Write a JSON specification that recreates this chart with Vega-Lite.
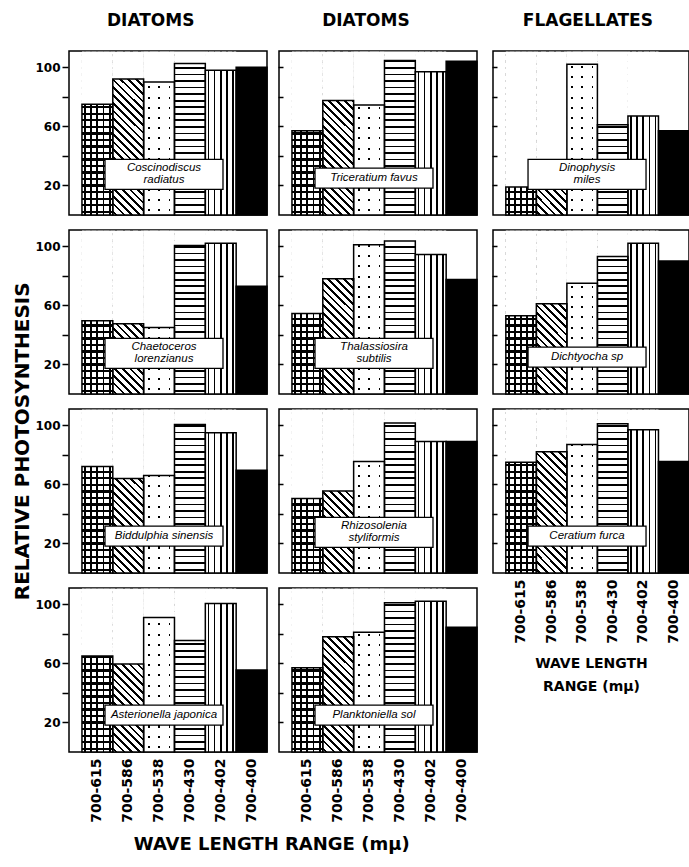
{
"$schema": "https://vega.github.io/schema/vega-lite/v6.json",
"background": "white",
"padding": {"left": 12, "top": 12, "right": 0, "bottom": 0},
"title": {"text": "RELATIVE PHOTOSYNTHESIS", "orient": "left", "anchor": "middle", "fontSize": 20, "fontWeight": "bold", "font": "DejaVu Sans", "color": "#000", "offset": 2, "dx": -8},
"params": [
{"name": "pG615H", "value": {"gradient":"linear","x1":0,"y1":0,"x2":0,"y2":1,"stops":[
{"offset":0.013,"color":"#fff"},{"offset":0.013,"color":"#000"},{"offset":0.027,"color":"#000"},{"offset":0.027,"color":"#fff"},
{"offset":0.053,"color":"#fff"},{"offset":0.053,"color":"#000"},{"offset":0.067,"color":"#000"},{"offset":0.067,"color":"#fff"},
{"offset":0.093,"color":"#fff"},{"offset":0.093,"color":"#000"},{"offset":0.107,"color":"#000"},{"offset":0.107,"color":"#fff"},
{"offset":0.133,"color":"#fff"},{"offset":0.133,"color":"#000"},{"offset":0.147,"color":"#000"},{"offset":0.147,"color":"#fff"},
{"offset":0.173,"color":"#fff"},{"offset":0.173,"color":"#000"},{"offset":0.187,"color":"#000"},{"offset":0.187,"color":"#fff"},
{"offset":0.213,"color":"#fff"},{"offset":0.213,"color":"#000"},{"offset":0.227,"color":"#000"},{"offset":0.227,"color":"#fff"},
{"offset":0.253,"color":"#fff"},{"offset":0.253,"color":"#000"},{"offset":0.267,"color":"#000"},{"offset":0.267,"color":"#fff"},
{"offset":0.293,"color":"#fff"},{"offset":0.293,"color":"#000"},{"offset":0.307,"color":"#000"},{"offset":0.307,"color":"#fff"},
{"offset":0.333,"color":"#fff"},{"offset":0.333,"color":"#000"},{"offset":0.347,"color":"#000"},{"offset":0.347,"color":"#fff"},
{"offset":0.373,"color":"#fff"},{"offset":0.373,"color":"#000"},{"offset":0.387,"color":"#000"},{"offset":0.387,"color":"#fff"},
{"offset":0.413,"color":"#fff"},{"offset":0.413,"color":"#000"},{"offset":0.427,"color":"#000"},{"offset":0.427,"color":"#fff"},
{"offset":0.453,"color":"#fff"},{"offset":0.453,"color":"#000"},{"offset":0.467,"color":"#000"},{"offset":0.467,"color":"#fff"},
{"offset":0.493,"color":"#fff"},{"offset":0.493,"color":"#000"},{"offset":0.507,"color":"#000"},{"offset":0.507,"color":"#fff"},
{"offset":0.533,"color":"#fff"},{"offset":0.533,"color":"#000"},{"offset":0.547,"color":"#000"},{"offset":0.547,"color":"#fff"},
{"offset":0.573,"color":"#fff"},{"offset":0.573,"color":"#000"},{"offset":0.587,"color":"#000"},{"offset":0.587,"color":"#fff"},
{"offset":0.613,"color":"#fff"},{"offset":0.613,"color":"#000"},{"offset":0.627,"color":"#000"},{"offset":0.627,"color":"#fff"},
{"offset":0.653,"color":"#fff"},{"offset":0.653,"color":"#000"},{"offset":0.667,"color":"#000"},{"offset":0.667,"color":"#fff"},
{"offset":0.693,"color":"#fff"},{"offset":0.693,"color":"#000"},{"offset":0.707,"color":"#000"},{"offset":0.707,"color":"#fff"},
{"offset":0.733,"color":"#fff"},{"offset":0.733,"color":"#000"},{"offset":0.747,"color":"#000"},{"offset":0.747,"color":"#fff"},
{"offset":0.773,"color":"#fff"},{"offset":0.773,"color":"#000"},{"offset":0.787,"color":"#000"},{"offset":0.787,"color":"#fff"},
{"offset":0.813,"color":"#fff"},{"offset":0.813,"color":"#000"},{"offset":0.827,"color":"#000"},{"offset":0.827,"color":"#fff"},
{"offset":0.853,"color":"#fff"},{"offset":0.853,"color":"#000"},{"offset":0.867,"color":"#000"},{"offset":0.867,"color":"#fff"},
{"offset":0.893,"color":"#fff"},{"offset":0.893,"color":"#000"},{"offset":0.907,"color":"#000"},{"offset":0.907,"color":"#fff"},
{"offset":0.933,"color":"#fff"},{"offset":0.933,"color":"#000"},{"offset":0.947,"color":"#000"},{"offset":0.947,"color":"#fff"},
{"offset":0.973,"color":"#fff"},{"offset":0.973,"color":"#000"},{"offset":0.987,"color":"#000"},{"offset":0.987,"color":"#fff"}
]}},
{"name": "pG615V", "value": {"gradient":"linear","x1":0,"y1":0,"x2":1,"y2":0,"stops":[
{"offset":0.07,"color":"rgba(255,255,255,0)"},{"offset":0.07,"color":"#000"},{"offset":0.13,"color":"#000"},{"offset":0.13,"color":"rgba(255,255,255,0)"},
{"offset":0.27,"color":"rgba(255,255,255,0)"},{"offset":0.27,"color":"#000"},{"offset":0.33,"color":"#000"},{"offset":0.33,"color":"rgba(255,255,255,0)"},
{"offset":0.47,"color":"rgba(255,255,255,0)"},{"offset":0.47,"color":"#000"},{"offset":0.53,"color":"#000"},{"offset":0.53,"color":"rgba(255,255,255,0)"},
{"offset":0.67,"color":"rgba(255,255,255,0)"},{"offset":0.67,"color":"#000"},{"offset":0.73,"color":"#000"},{"offset":0.73,"color":"rgba(255,255,255,0)"},
{"offset":0.87,"color":"rgba(255,255,255,0)"},{"offset":0.87,"color":"#000"},{"offset":0.93,"color":"#000"},{"offset":0.93,"color":"rgba(255,255,255,0)"}
]}},
{"name": "pDiag", "value": {"gradient":"linear","x1":1,"y1":0,"x2":0.784,"y2":1.148,"stops":[
{"offset":0.013,"color":"#fff"},{"offset":0.013,"color":"#000"},{"offset":0.027,"color":"#000"},{"offset":0.027,"color":"#fff"},
{"offset":0.053,"color":"#fff"},{"offset":0.053,"color":"#000"},{"offset":0.067,"color":"#000"},{"offset":0.067,"color":"#fff"},
{"offset":0.093,"color":"#fff"},{"offset":0.093,"color":"#000"},{"offset":0.107,"color":"#000"},{"offset":0.107,"color":"#fff"},
{"offset":0.133,"color":"#fff"},{"offset":0.133,"color":"#000"},{"offset":0.147,"color":"#000"},{"offset":0.147,"color":"#fff"},
{"offset":0.173,"color":"#fff"},{"offset":0.173,"color":"#000"},{"offset":0.187,"color":"#000"},{"offset":0.187,"color":"#fff"},
{"offset":0.213,"color":"#fff"},{"offset":0.213,"color":"#000"},{"offset":0.227,"color":"#000"},{"offset":0.227,"color":"#fff"},
{"offset":0.253,"color":"#fff"},{"offset":0.253,"color":"#000"},{"offset":0.267,"color":"#000"},{"offset":0.267,"color":"#fff"},
{"offset":0.293,"color":"#fff"},{"offset":0.293,"color":"#000"},{"offset":0.307,"color":"#000"},{"offset":0.307,"color":"#fff"},
{"offset":0.333,"color":"#fff"},{"offset":0.333,"color":"#000"},{"offset":0.347,"color":"#000"},{"offset":0.347,"color":"#fff"},
{"offset":0.373,"color":"#fff"},{"offset":0.373,"color":"#000"},{"offset":0.387,"color":"#000"},{"offset":0.387,"color":"#fff"},
{"offset":0.413,"color":"#fff"},{"offset":0.413,"color":"#000"},{"offset":0.427,"color":"#000"},{"offset":0.427,"color":"#fff"},
{"offset":0.453,"color":"#fff"},{"offset":0.453,"color":"#000"},{"offset":0.467,"color":"#000"},{"offset":0.467,"color":"#fff"},
{"offset":0.493,"color":"#fff"},{"offset":0.493,"color":"#000"},{"offset":0.507,"color":"#000"},{"offset":0.507,"color":"#fff"},
{"offset":0.533,"color":"#fff"},{"offset":0.533,"color":"#000"},{"offset":0.547,"color":"#000"},{"offset":0.547,"color":"#fff"},
{"offset":0.573,"color":"#fff"},{"offset":0.573,"color":"#000"},{"offset":0.587,"color":"#000"},{"offset":0.587,"color":"#fff"},
{"offset":0.613,"color":"#fff"},{"offset":0.613,"color":"#000"},{"offset":0.627,"color":"#000"},{"offset":0.627,"color":"#fff"},
{"offset":0.653,"color":"#fff"},{"offset":0.653,"color":"#000"},{"offset":0.667,"color":"#000"},{"offset":0.667,"color":"#fff"},
{"offset":0.693,"color":"#fff"},{"offset":0.693,"color":"#000"},{"offset":0.707,"color":"#000"},{"offset":0.707,"color":"#fff"},
{"offset":0.733,"color":"#fff"},{"offset":0.733,"color":"#000"},{"offset":0.747,"color":"#000"},{"offset":0.747,"color":"#fff"},
{"offset":0.773,"color":"#fff"},{"offset":0.773,"color":"#000"},{"offset":0.787,"color":"#000"},{"offset":0.787,"color":"#fff"},
{"offset":0.813,"color":"#fff"},{"offset":0.813,"color":"#000"},{"offset":0.827,"color":"#000"},{"offset":0.827,"color":"#fff"},
{"offset":0.853,"color":"#fff"},{"offset":0.853,"color":"#000"},{"offset":0.867,"color":"#000"},{"offset":0.867,"color":"#fff"},
{"offset":0.893,"color":"#fff"},{"offset":0.893,"color":"#000"},{"offset":0.907,"color":"#000"},{"offset":0.907,"color":"#fff"},
{"offset":0.933,"color":"#fff"},{"offset":0.933,"color":"#000"},{"offset":0.947,"color":"#000"},{"offset":0.947,"color":"#fff"},
{"offset":0.973,"color":"#fff"},{"offset":0.973,"color":"#000"},{"offset":0.987,"color":"#000"},{"offset":0.987,"color":"#fff"}
]}},
{"name": "pDotH", "value": {"gradient":"linear","x1":0,"y1":0,"x2":0,"y2":1,"stops":[
{"offset":0.025,"color":"#fff"},{"offset":0.025,"color":"rgba(255,255,255,0)"},{"offset":0.0375,"color":"rgba(255,255,255,0)"},{"offset":0.0375,"color":"#fff"},
{"offset":0.0875,"color":"#fff"},{"offset":0.0875,"color":"rgba(255,255,255,0)"},{"offset":0.1,"color":"rgba(255,255,255,0)"},{"offset":0.1,"color":"#fff"},
{"offset":0.15,"color":"#fff"},{"offset":0.15,"color":"rgba(255,255,255,0)"},{"offset":0.1625,"color":"rgba(255,255,255,0)"},{"offset":0.1625,"color":"#fff"},
{"offset":0.2125,"color":"#fff"},{"offset":0.2125,"color":"rgba(255,255,255,0)"},{"offset":0.225,"color":"rgba(255,255,255,0)"},{"offset":0.225,"color":"#fff"},
{"offset":0.275,"color":"#fff"},{"offset":0.275,"color":"rgba(255,255,255,0)"},{"offset":0.2875,"color":"rgba(255,255,255,0)"},{"offset":0.2875,"color":"#fff"},
{"offset":0.3375,"color":"#fff"},{"offset":0.3375,"color":"rgba(255,255,255,0)"},{"offset":0.35,"color":"rgba(255,255,255,0)"},{"offset":0.35,"color":"#fff"},
{"offset":0.4,"color":"#fff"},{"offset":0.4,"color":"rgba(255,255,255,0)"},{"offset":0.4125,"color":"rgba(255,255,255,0)"},{"offset":0.4125,"color":"#fff"},
{"offset":0.4625,"color":"#fff"},{"offset":0.4625,"color":"rgba(255,255,255,0)"},{"offset":0.475,"color":"rgba(255,255,255,0)"},{"offset":0.475,"color":"#fff"},
{"offset":0.525,"color":"#fff"},{"offset":0.525,"color":"rgba(255,255,255,0)"},{"offset":0.5375,"color":"rgba(255,255,255,0)"},{"offset":0.5375,"color":"#fff"},
{"offset":0.5875,"color":"#fff"},{"offset":0.5875,"color":"rgba(255,255,255,0)"},{"offset":0.6,"color":"rgba(255,255,255,0)"},{"offset":0.6,"color":"#fff"},
{"offset":0.65,"color":"#fff"},{"offset":0.65,"color":"rgba(255,255,255,0)"},{"offset":0.6625,"color":"rgba(255,255,255,0)"},{"offset":0.6625,"color":"#fff"},
{"offset":0.7125,"color":"#fff"},{"offset":0.7125,"color":"rgba(255,255,255,0)"},{"offset":0.725,"color":"rgba(255,255,255,0)"},{"offset":0.725,"color":"#fff"},
{"offset":0.775,"color":"#fff"},{"offset":0.775,"color":"rgba(255,255,255,0)"},{"offset":0.7875,"color":"rgba(255,255,255,0)"},{"offset":0.7875,"color":"#fff"},
{"offset":0.8375,"color":"#fff"},{"offset":0.8375,"color":"rgba(255,255,255,0)"},{"offset":0.85,"color":"rgba(255,255,255,0)"},{"offset":0.85,"color":"#fff"},
{"offset":0.9,"color":"#fff"},{"offset":0.9,"color":"rgba(255,255,255,0)"},{"offset":0.9125,"color":"rgba(255,255,255,0)"},{"offset":0.9125,"color":"#fff"},
{"offset":0.9625,"color":"#fff"},{"offset":0.9625,"color":"rgba(255,255,255,0)"},{"offset":0.975,"color":"rgba(255,255,255,0)"},{"offset":0.975,"color":"#fff"}
]}},
{"name": "pDotV", "value": {"gradient":"linear","x1":0,"y1":0,"x2":1,"y2":0,"stops":[
{"offset":0.14,"color":"#fff"},{"offset":0.14,"color":"rgba(255,255,255,0)"},{"offset":0.2,"color":"rgba(255,255,255,0)"},{"offset":0.2,"color":"#fff"},
{"offset":0.473,"color":"#fff"},{"offset":0.473,"color":"rgba(255,255,255,0)"},{"offset":0.533,"color":"rgba(255,255,255,0)"},{"offset":0.533,"color":"#fff"},
{"offset":0.807,"color":"#fff"},{"offset":0.807,"color":"rgba(255,255,255,0)"},{"offset":0.867,"color":"rgba(255,255,255,0)"},{"offset":0.867,"color":"#fff"}
]}},
{"name": "pHL430", "value": {"gradient":"linear","x1":0,"y1":0,"x2":0,"y2":1,"stops":[
{"offset":0.015,"color":"#fff"},{"offset":0.015,"color":"#000"},{"offset":0.025,"color":"#000"},{"offset":0.025,"color":"#fff"},
{"offset":0.055,"color":"#fff"},{"offset":0.055,"color":"#000"},{"offset":0.065,"color":"#000"},{"offset":0.065,"color":"#fff"},
{"offset":0.095,"color":"#fff"},{"offset":0.095,"color":"#000"},{"offset":0.105,"color":"#000"},{"offset":0.105,"color":"#fff"},
{"offset":0.135,"color":"#fff"},{"offset":0.135,"color":"#000"},{"offset":0.145,"color":"#000"},{"offset":0.145,"color":"#fff"},
{"offset":0.175,"color":"#fff"},{"offset":0.175,"color":"#000"},{"offset":0.185,"color":"#000"},{"offset":0.185,"color":"#fff"},
{"offset":0.215,"color":"#fff"},{"offset":0.215,"color":"#000"},{"offset":0.225,"color":"#000"},{"offset":0.225,"color":"#fff"},
{"offset":0.255,"color":"#fff"},{"offset":0.255,"color":"#000"},{"offset":0.265,"color":"#000"},{"offset":0.265,"color":"#fff"},
{"offset":0.295,"color":"#fff"},{"offset":0.295,"color":"#000"},{"offset":0.305,"color":"#000"},{"offset":0.305,"color":"#fff"},
{"offset":0.335,"color":"#fff"},{"offset":0.335,"color":"#000"},{"offset":0.345,"color":"#000"},{"offset":0.345,"color":"#fff"},
{"offset":0.375,"color":"#fff"},{"offset":0.375,"color":"#000"},{"offset":0.385,"color":"#000"},{"offset":0.385,"color":"#fff"},
{"offset":0.415,"color":"#fff"},{"offset":0.415,"color":"#000"},{"offset":0.425,"color":"#000"},{"offset":0.425,"color":"#fff"},
{"offset":0.455,"color":"#fff"},{"offset":0.455,"color":"#000"},{"offset":0.465,"color":"#000"},{"offset":0.465,"color":"#fff"},
{"offset":0.495,"color":"#fff"},{"offset":0.495,"color":"#000"},{"offset":0.505,"color":"#000"},{"offset":0.505,"color":"#fff"},
{"offset":0.535,"color":"#fff"},{"offset":0.535,"color":"#000"},{"offset":0.545,"color":"#000"},{"offset":0.545,"color":"#fff"},
{"offset":0.575,"color":"#fff"},{"offset":0.575,"color":"#000"},{"offset":0.585,"color":"#000"},{"offset":0.585,"color":"#fff"},
{"offset":0.615,"color":"#fff"},{"offset":0.615,"color":"#000"},{"offset":0.625,"color":"#000"},{"offset":0.625,"color":"#fff"},
{"offset":0.655,"color":"#fff"},{"offset":0.655,"color":"#000"},{"offset":0.665,"color":"#000"},{"offset":0.665,"color":"#fff"},
{"offset":0.695,"color":"#fff"},{"offset":0.695,"color":"#000"},{"offset":0.705,"color":"#000"},{"offset":0.705,"color":"#fff"},
{"offset":0.735,"color":"#fff"},{"offset":0.735,"color":"#000"},{"offset":0.745,"color":"#000"},{"offset":0.745,"color":"#fff"},
{"offset":0.775,"color":"#fff"},{"offset":0.775,"color":"#000"},{"offset":0.785,"color":"#000"},{"offset":0.785,"color":"#fff"},
{"offset":0.815,"color":"#fff"},{"offset":0.815,"color":"#000"},{"offset":0.825,"color":"#000"},{"offset":0.825,"color":"#fff"},
{"offset":0.855,"color":"#fff"},{"offset":0.855,"color":"#000"},{"offset":0.865,"color":"#000"},{"offset":0.865,"color":"#fff"},
{"offset":0.895,"color":"#fff"},{"offset":0.895,"color":"#000"},{"offset":0.905,"color":"#000"},{"offset":0.905,"color":"#fff"},
{"offset":0.935,"color":"#fff"},{"offset":0.935,"color":"#000"},{"offset":0.945,"color":"#000"},{"offset":0.945,"color":"#fff"},
{"offset":0.975,"color":"#fff"},{"offset":0.975,"color":"#000"},{"offset":0.985,"color":"#000"},{"offset":0.985,"color":"#fff"}
]}},
{"name": "pVL402", "value": {"gradient":"linear","x1":0,"y1":0,"x2":1,"y2":0,"stops":[
{"offset":0.075,"color":"#fff"},{"offset":0.075,"color":"#000"},{"offset":0.125,"color":"#000"},{"offset":0.125,"color":"#fff"},
{"offset":0.275,"color":"#fff"},{"offset":0.275,"color":"#000"},{"offset":0.325,"color":"#000"},{"offset":0.325,"color":"#fff"},
{"offset":0.475,"color":"#fff"},{"offset":0.475,"color":"#000"},{"offset":0.525,"color":"#000"},{"offset":0.525,"color":"#fff"},
{"offset":0.675,"color":"#fff"},{"offset":0.675,"color":"#000"},{"offset":0.725,"color":"#000"},{"offset":0.725,"color":"#fff"},
{"offset":0.875,"color":"#fff"},{"offset":0.875,"color":"#000"},{"offset":0.925,"color":"#000"},{"offset":0.925,"color":"#fff"}
]}}
],
"data": {"values": [
{"col":1,"row":1,"species":"Coscinodiscus\nradiatus","range":"700-615","value":75},
{"col":1,"row":1,"species":"Coscinodiscus\nradiatus","range":"700-586","value":92},
{"col":1,"row":1,"species":"Coscinodiscus\nradiatus","range":"700-538","value":90},
{"col":1,"row":1,"species":"Coscinodiscus\nradiatus","range":"700-430","value":102.5},
{"col":1,"row":1,"species":"Coscinodiscus\nradiatus","range":"700-402","value":98},
{"col":1,"row":1,"species":"Coscinodiscus\nradiatus","range":"700-400","value":100},
{"col":2,"row":1,"species":"Triceratium favus","range":"700-615","value":57},
{"col":2,"row":1,"species":"Triceratium favus","range":"700-586","value":77.5},
{"col":2,"row":1,"species":"Triceratium favus","range":"700-538","value":74.5},
{"col":2,"row":1,"species":"Triceratium favus","range":"700-430","value":104.5},
{"col":2,"row":1,"species":"Triceratium favus","range":"700-402","value":97},
{"col":2,"row":1,"species":"Triceratium favus","range":"700-400","value":104},
{"col":3,"row":1,"species":"Dinophysis\nmiles","range":"700-615","value":19},
{"col":3,"row":1,"species":"Dinophysis\nmiles","range":"700-586","value":24},
{"col":3,"row":1,"species":"Dinophysis\nmiles","range":"700-538","value":102},
{"col":3,"row":1,"species":"Dinophysis\nmiles","range":"700-430","value":61},
{"col":3,"row":1,"species":"Dinophysis\nmiles","range":"700-402","value":67},
{"col":3,"row":1,"species":"Dinophysis\nmiles","range":"700-400","value":57},
{"col":1,"row":2,"species":"Chaetoceros\nlorenzianus","range":"700-615","value":49.5},
{"col":1,"row":2,"species":"Chaetoceros\nlorenzianus","range":"700-586","value":47.5},
{"col":1,"row":2,"species":"Chaetoceros\nlorenzianus","range":"700-538","value":45},
{"col":1,"row":2,"species":"Chaetoceros\nlorenzianus","range":"700-430","value":100.5},
{"col":1,"row":2,"species":"Chaetoceros\nlorenzianus","range":"700-402","value":102},
{"col":1,"row":2,"species":"Chaetoceros\nlorenzianus","range":"700-400","value":73},
{"col":2,"row":2,"species":"Thalassiosira\nsubtilis","range":"700-615","value":54.5},
{"col":2,"row":2,"species":"Thalassiosira\nsubtilis","range":"700-586","value":78},
{"col":2,"row":2,"species":"Thalassiosira\nsubtilis","range":"700-538","value":101},
{"col":2,"row":2,"species":"Thalassiosira\nsubtilis","range":"700-430","value":103.5},
{"col":2,"row":2,"species":"Thalassiosira\nsubtilis","range":"700-402","value":94.5},
{"col":2,"row":2,"species":"Thalassiosira\nsubtilis","range":"700-400","value":77.5},
{"col":3,"row":2,"species":"Dichtyocha sp","range":"700-615","value":53},
{"col":3,"row":2,"species":"Dichtyocha sp","range":"700-586","value":61},
{"col":3,"row":2,"species":"Dichtyocha sp","range":"700-538","value":75},
{"col":3,"row":2,"species":"Dichtyocha sp","range":"700-430","value":93},
{"col":3,"row":2,"species":"Dichtyocha sp","range":"700-402","value":102},
{"col":3,"row":2,"species":"Dichtyocha sp","range":"700-400","value":90},
{"col":1,"row":3,"species":"Biddulphia sinensis","range":"700-615","value":72},
{"col":1,"row":3,"species":"Biddulphia sinensis","range":"700-586","value":64},
{"col":1,"row":3,"species":"Biddulphia sinensis","range":"700-538","value":66},
{"col":1,"row":3,"species":"Biddulphia sinensis","range":"700-430","value":100.5},
{"col":1,"row":3,"species":"Biddulphia sinensis","range":"700-402","value":95},
{"col":1,"row":3,"species":"Biddulphia sinensis","range":"700-400","value":69.5},
{"col":2,"row":3,"species":"Rhizosolenia\nstyliformis","range":"700-615","value":50.5},
{"col":2,"row":3,"species":"Rhizosolenia\nstyliformis","range":"700-586","value":55.5},
{"col":2,"row":3,"species":"Rhizosolenia\nstyliformis","range":"700-538","value":75.5},
{"col":2,"row":3,"species":"Rhizosolenia\nstyliformis","range":"700-430","value":101.5},
{"col":2,"row":3,"species":"Rhizosolenia\nstyliformis","range":"700-402","value":89},
{"col":2,"row":3,"species":"Rhizosolenia\nstyliformis","range":"700-400","value":89},
{"col":3,"row":3,"species":"Ceratium furca","range":"700-615","value":75},
{"col":3,"row":3,"species":"Ceratium furca","range":"700-586","value":82},
{"col":3,"row":3,"species":"Ceratium furca","range":"700-538","value":87},
{"col":3,"row":3,"species":"Ceratium furca","range":"700-430","value":101},
{"col":3,"row":3,"species":"Ceratium furca","range":"700-402","value":97},
{"col":3,"row":3,"species":"Ceratium furca","range":"700-400","value":75.5},
{"col":1,"row":4,"species":"Asterionella japonica","range":"700-615","value":65},
{"col":1,"row":4,"species":"Asterionella japonica","range":"700-586","value":59.5},
{"col":1,"row":4,"species":"Asterionella japonica","range":"700-538","value":91},
{"col":1,"row":4,"species":"Asterionella japonica","range":"700-430","value":75.5},
{"col":1,"row":4,"species":"Asterionella japonica","range":"700-402","value":100.5},
{"col":1,"row":4,"species":"Asterionella japonica","range":"700-400","value":55.5},
{"col":2,"row":4,"species":"Planktoniella sol","range":"700-615","value":57},
{"col":2,"row":4,"species":"Planktoniella sol","range":"700-586","value":78},
{"col":2,"row":4,"species":"Planktoniella sol","range":"700-538","value":81},
{"col":2,"row":4,"species":"Planktoniella sol","range":"700-430","value":101},
{"col":2,"row":4,"species":"Planktoniella sol","range":"700-402","value":102},
{"col":2,"row":4,"species":"Planktoniella sol","range":"700-400","value":84.5}
]},
"config": {
  "view": {"stroke": "#000", "strokeWidth": 1.5},
  "font": "DejaVu Sans",
  "axis": {"labelColor": "#000", "tickColor": "#000", "domain": false, "grid": false}
},
"spacing": 12,
"hconcat": [
{
"title": {"text": "WAVE LENGTH RANGE (mμ)", "orient": "bottom", "anchor": "middle", "fontSize": 18, "fontWeight": "bold", "font": "DejaVu Sans", "color": "#000", "offset": 14, "dx": 15},
"spacing": 8,
"hconcat": [
{
"title": {"text": "DIATOMS", "anchor": "middle", "fontSize": 17, "fontWeight": "bold", "font": "DejaVu Sans", "color": "#000", "offset": 20, "dx": -1},
"transform": [{"filter": "datum.col == 1"}],
"facet": {"row": {"field": "row", "type": "ordinal", "title": null, "header": {"labels": false, "labelPadding": 0}}},
"spacing": 12,
"spec": {
"width": 198, "height": 164,
"layer": [
{"transform":[{"filter":"datum.range == '700-615'"}],"mark":{"type":"bar","fill":{"expr":"pG615H"}},"encoding":{"x":{"field":"range","type":"nominal","scale":{"domain":["700-615","700-586","700-538","700-430","700-402","700-400"],"paddingInner":0,"paddingOuter":0.21,"align":1}},"y":{"datum":0,"type":"quantitative","scale":{"domain":[0,111],"nice":false}},"y2":{"datum":110.5}}},
{"transform":[{"filter":"datum.range == '700-615'"}],"mark":{"type":"bar","fill":{"expr":"pG615V"}},"encoding":{"x":{"field":"range","type":"nominal","scale":{"domain":["700-615","700-586","700-538","700-430","700-402","700-400"],"paddingInner":0,"paddingOuter":0.21,"align":1}},"y":{"datum":0,"type":"quantitative","scale":{"domain":[0,111],"nice":false}},"y2":{"datum":110.5}}},
{"transform":[{"filter":"datum.range == '700-586'"}],"mark":{"type":"bar","fill":{"expr":"pDiag"}},"encoding":{"x":{"field":"range","type":"nominal","scale":{"domain":["700-615","700-586","700-538","700-430","700-402","700-400"],"paddingInner":0,"paddingOuter":0.21,"align":1}},"y":{"datum":0,"type":"quantitative","scale":{"domain":[0,111],"nice":false}},"y2":{"datum":110.5}}},
{"transform":[{"filter":"datum.range == '700-538'"}],"mark":{"type":"bar","fill":"#000"},"encoding":{"x":{"field":"range","type":"nominal","scale":{"domain":["700-615","700-586","700-538","700-430","700-402","700-400"],"paddingInner":0,"paddingOuter":0.21,"align":1}},"y":{"datum":0,"type":"quantitative","scale":{"domain":[0,111],"nice":false}},"y2":{"datum":110.5}}},
{"transform":[{"filter":"datum.range == '700-538'"}],"mark":{"type":"bar","fill":{"expr":"pDotH"}},"encoding":{"x":{"field":"range","type":"nominal","scale":{"domain":["700-615","700-586","700-538","700-430","700-402","700-400"],"paddingInner":0,"paddingOuter":0.21,"align":1}},"y":{"datum":0,"type":"quantitative","scale":{"domain":[0,111],"nice":false}},"y2":{"datum":110.5}}},
{"transform":[{"filter":"datum.range == '700-538'"}],"mark":{"type":"bar","fill":{"expr":"pDotV"}},"encoding":{"x":{"field":"range","type":"nominal","scale":{"domain":["700-615","700-586","700-538","700-430","700-402","700-400"],"paddingInner":0,"paddingOuter":0.21,"align":1}},"y":{"datum":0,"type":"quantitative","scale":{"domain":[0,111],"nice":false}},"y2":{"datum":110.5}}},
{"transform":[{"filter":"datum.range == '700-430'"}],"mark":{"type":"bar","fill":{"expr":"pHL430"}},"encoding":{"x":{"field":"range","type":"nominal","scale":{"domain":["700-615","700-586","700-538","700-430","700-402","700-400"],"paddingInner":0,"paddingOuter":0.21,"align":1}},"y":{"datum":0,"type":"quantitative","scale":{"domain":[0,111],"nice":false}},"y2":{"datum":110.5}}},
{"transform":[{"filter":"datum.range == '700-402'"}],"mark":{"type":"bar","fill":{"expr":"pVL402"}},"encoding":{"x":{"field":"range","type":"nominal","scale":{"domain":["700-615","700-586","700-538","700-430","700-402","700-400"],"paddingInner":0,"paddingOuter":0.21,"align":1}},"y":{"datum":0,"type":"quantitative","scale":{"domain":[0,111],"nice":false}},"y2":{"datum":110.5}}},
{"transform":[{"filter":"datum.range != '700-400'"}],"mark":{"type":"bar","fill":"#fff"},"encoding":{"x":{"field":"range","type":"nominal","scale":{"domain":["700-615","700-586","700-538","700-430","700-402","700-400"],"paddingInner":0,"paddingOuter":0.21,"align":1}},"y":{"field":"value","type":"quantitative","scale":{"domain":[0,111],"nice":false}},"y2":{"datum":110.5}}},
{"transform":[{"filter":"datum.range == '700-400'"}],"mark":{"type":"bar","fill":"#000"},"encoding":{"x":{"field":"range","type":"nominal","scale":{"domain":["700-615","700-586","700-538","700-430","700-402","700-400"],"paddingInner":0,"paddingOuter":0.21,"align":1}},"y":{"field":"value","type":"quantitative","stack":null,"scale":{"domain":[0,111],"nice":false}}}},
{"mark":{"type":"bar","filled":false,"color":"#000","strokeWidth":1.5},"encoding":{"x":{"field":"range","type":"nominal","scale":{"domain":["700-615","700-586","700-538","700-430","700-402","700-400"],"paddingInner":0,"paddingOuter":0.21,"align":1},"axis":{"title":null,"labelAngle":270,"labelFontSize":14,"labelFontWeight":"bold","labelFont":"DejaVu Sans","labelColor":"#000","ticks":false,"domain":false,"labelPadding":4}},"y":{"field":"value","type":"quantitative","stack":null,"scale":{"domain":[0,111],"nice":false},"axis":{"title":null,"values":[20,40,60,80,100],"labelExpr":"datum.value % 40 == 20 ? datum.label : ''","tickSize":6,"tickWidth":1.5,"labelFontSize":12,"labelFontWeight":"bold","labelFont":"DejaVu Sans","labelPadding":2}}}},
{"transform":[{"filter":"datum.range == '700-615' && indexof(datum.species, '\\n') >= 0"}],"mark":{"type":"point","shape":"M-1,-0.254L1,-0.254L1,0.254L-1,0.254Z","size":13924,"filled":true,"fill":"#fff","stroke":"#000","strokeWidth":1.3,"opacity":1},"encoding":{"x":{"datum":"700-538","bandPosition":0.66},"y":{"datum":27.5,"type":"quantitative"}}},
{"transform":[{"filter":"datum.range == '700-615' && indexof(datum.species, '\\n') < 0"}],"mark":{"type":"point","shape":"M-1,-0.17L1,-0.17L1,0.17L-1,0.17Z","size":13924,"filled":true,"fill":"#fff","stroke":"#000","strokeWidth":1.3,"opacity":1},"encoding":{"x":{"datum":"700-538","bandPosition":0.66},"y":{"datum":25,"type":"quantitative"}}},
{"transform":[{"filter":"datum.range == '700-615' && indexof(datum.species, '\\n') >= 0"}],"mark":{"type":"text","font":"Liberation Sans","fontStyle":"italic","fontSize":11.5,"lineBreak":"\n","lineHeight":12,"color":"#000"},"encoding":{"x":{"datum":"700-538","bandPosition":0.66},"y":{"datum":31.6,"type":"quantitative"},"text":{"field":"species"}}},
{"transform":[{"filter":"datum.range == '700-615' && indexof(datum.species, '\\n') < 0"}],"mark":{"type":"text","font":"Liberation Sans","fontStyle":"italic","fontSize":11.5,"color":"#000"},"encoding":{"x":{"datum":"700-538","bandPosition":0.66},"y":{"datum":25,"type":"quantitative"},"text":{"field":"species"}}}
]
}
},
{
"title": {"text": "DIATOMS", "anchor": "middle", "fontSize": 17, "fontWeight": "bold", "font": "DejaVu Sans", "color": "#000", "offset": 20, "dx": -12},
"transform": [{"filter": "datum.col == 2"}],
"facet": {"row": {"field": "row", "type": "ordinal", "title": null, "header": {"labels": false, "labelPadding": 0}}},
"spacing": 12,
"spec": {
"width": 198, "height": 164,
"layer": [
{"transform":[{"filter":"datum.range == '700-615'"}],"mark":{"type":"bar","fill":{"expr":"pG615H"}},"encoding":{"x":{"field":"range","type":"nominal","scale":{"domain":["700-615","700-586","700-538","700-430","700-402","700-400"],"paddingInner":0,"paddingOuter":0.21,"align":1}},"y":{"datum":0,"type":"quantitative","scale":{"domain":[0,111],"nice":false}},"y2":{"datum":110.5}}},
{"transform":[{"filter":"datum.range == '700-615'"}],"mark":{"type":"bar","fill":{"expr":"pG615V"}},"encoding":{"x":{"field":"range","type":"nominal","scale":{"domain":["700-615","700-586","700-538","700-430","700-402","700-400"],"paddingInner":0,"paddingOuter":0.21,"align":1}},"y":{"datum":0,"type":"quantitative","scale":{"domain":[0,111],"nice":false}},"y2":{"datum":110.5}}},
{"transform":[{"filter":"datum.range == '700-586'"}],"mark":{"type":"bar","fill":{"expr":"pDiag"}},"encoding":{"x":{"field":"range","type":"nominal","scale":{"domain":["700-615","700-586","700-538","700-430","700-402","700-400"],"paddingInner":0,"paddingOuter":0.21,"align":1}},"y":{"datum":0,"type":"quantitative","scale":{"domain":[0,111],"nice":false}},"y2":{"datum":110.5}}},
{"transform":[{"filter":"datum.range == '700-538'"}],"mark":{"type":"bar","fill":"#000"},"encoding":{"x":{"field":"range","type":"nominal","scale":{"domain":["700-615","700-586","700-538","700-430","700-402","700-400"],"paddingInner":0,"paddingOuter":0.21,"align":1}},"y":{"datum":0,"type":"quantitative","scale":{"domain":[0,111],"nice":false}},"y2":{"datum":110.5}}},
{"transform":[{"filter":"datum.range == '700-538'"}],"mark":{"type":"bar","fill":{"expr":"pDotH"}},"encoding":{"x":{"field":"range","type":"nominal","scale":{"domain":["700-615","700-586","700-538","700-430","700-402","700-400"],"paddingInner":0,"paddingOuter":0.21,"align":1}},"y":{"datum":0,"type":"quantitative","scale":{"domain":[0,111],"nice":false}},"y2":{"datum":110.5}}},
{"transform":[{"filter":"datum.range == '700-538'"}],"mark":{"type":"bar","fill":{"expr":"pDotV"}},"encoding":{"x":{"field":"range","type":"nominal","scale":{"domain":["700-615","700-586","700-538","700-430","700-402","700-400"],"paddingInner":0,"paddingOuter":0.21,"align":1}},"y":{"datum":0,"type":"quantitative","scale":{"domain":[0,111],"nice":false}},"y2":{"datum":110.5}}},
{"transform":[{"filter":"datum.range == '700-430'"}],"mark":{"type":"bar","fill":{"expr":"pHL430"}},"encoding":{"x":{"field":"range","type":"nominal","scale":{"domain":["700-615","700-586","700-538","700-430","700-402","700-400"],"paddingInner":0,"paddingOuter":0.21,"align":1}},"y":{"datum":0,"type":"quantitative","scale":{"domain":[0,111],"nice":false}},"y2":{"datum":110.5}}},
{"transform":[{"filter":"datum.range == '700-402'"}],"mark":{"type":"bar","fill":{"expr":"pVL402"}},"encoding":{"x":{"field":"range","type":"nominal","scale":{"domain":["700-615","700-586","700-538","700-430","700-402","700-400"],"paddingInner":0,"paddingOuter":0.21,"align":1}},"y":{"datum":0,"type":"quantitative","scale":{"domain":[0,111],"nice":false}},"y2":{"datum":110.5}}},
{"transform":[{"filter":"datum.range != '700-400'"}],"mark":{"type":"bar","fill":"#fff"},"encoding":{"x":{"field":"range","type":"nominal","scale":{"domain":["700-615","700-586","700-538","700-430","700-402","700-400"],"paddingInner":0,"paddingOuter":0.21,"align":1}},"y":{"field":"value","type":"quantitative","scale":{"domain":[0,111],"nice":false}},"y2":{"datum":110.5}}},
{"transform":[{"filter":"datum.range == '700-400'"}],"mark":{"type":"bar","fill":"#000"},"encoding":{"x":{"field":"range","type":"nominal","scale":{"domain":["700-615","700-586","700-538","700-430","700-402","700-400"],"paddingInner":0,"paddingOuter":0.21,"align":1}},"y":{"field":"value","type":"quantitative","stack":null,"scale":{"domain":[0,111],"nice":false}}}},
{"mark":{"type":"bar","filled":false,"color":"#000","strokeWidth":1.5},"encoding":{"x":{"field":"range","type":"nominal","scale":{"domain":["700-615","700-586","700-538","700-430","700-402","700-400"],"paddingInner":0,"paddingOuter":0.21,"align":1},"axis":{"title":null,"labelAngle":270,"labelFontSize":14,"labelFontWeight":"bold","labelFont":"DejaVu Sans","labelColor":"#000","ticks":false,"domain":false,"labelPadding":4}},"y":{"field":"value","type":"quantitative","stack":null,"scale":{"domain":[0,111],"nice":false},"axis":{"title":null,"values":[20,40,60,80,100],"labels":false,"tickSize":-5,"tickWidth":1.5}}}},
{"transform":[{"filter":"datum.range == '700-615' && indexof(datum.species, '\\n') >= 0"}],"mark":{"type":"point","shape":"M-1,-0.254L1,-0.254L1,0.254L-1,0.254Z","size":13924,"filled":true,"fill":"#fff","stroke":"#000","strokeWidth":1.3,"opacity":1},"encoding":{"x":{"datum":"700-538","bandPosition":0.66},"y":{"datum":27.5,"type":"quantitative"}}},
{"transform":[{"filter":"datum.range == '700-615' && indexof(datum.species, '\\n') < 0"}],"mark":{"type":"point","shape":"M-1,-0.17L1,-0.17L1,0.17L-1,0.17Z","size":13924,"filled":true,"fill":"#fff","stroke":"#000","strokeWidth":1.3,"opacity":1},"encoding":{"x":{"datum":"700-538","bandPosition":0.66},"y":{"datum":25,"type":"quantitative"}}},
{"transform":[{"filter":"datum.range == '700-615' && indexof(datum.species, '\\n') >= 0"}],"mark":{"type":"text","font":"Liberation Sans","fontStyle":"italic","fontSize":11.5,"lineBreak":"\n","lineHeight":12,"color":"#000"},"encoding":{"x":{"datum":"700-538","bandPosition":0.66},"y":{"datum":31.6,"type":"quantitative"},"text":{"field":"species"}}},
{"transform":[{"filter":"datum.range == '700-615' && indexof(datum.species, '\\n') < 0"}],"mark":{"type":"text","font":"Liberation Sans","fontStyle":"italic","fontSize":11.5,"color":"#000"},"encoding":{"x":{"datum":"700-538","bandPosition":0.66},"y":{"datum":25,"type":"quantitative"},"text":{"field":"species"}}}
]
}
}
]
},
{
"title": {"text": "FLAGELLATES", "anchor": "middle", "fontSize": 17, "fontWeight": "bold", "font": "DejaVu Sans", "color": "#000", "offset": 20, "dx": -3},
"transform": [{"filter": "datum.col == 3"}],
"facet": {"row": {"field": "row", "type": "ordinal", "title": null, "header": {"labels": false, "labelPadding": 0}}},
"spacing": 12,
"spec": {
"width": 196, "height": 164,
"layer": [
{"transform":[{"filter":"datum.range == '700-615'"}],"mark":{"type":"bar","fill":{"expr":"pG615H"}},"encoding":{"x":{"field":"range","type":"nominal","scale":{"domain":["700-615","700-586","700-538","700-430","700-402","700-400"],"paddingInner":0,"paddingOuter":0.21,"align":1}},"y":{"datum":0,"type":"quantitative","scale":{"domain":[0,111],"nice":false}},"y2":{"datum":110.5}}},
{"transform":[{"filter":"datum.range == '700-615'"}],"mark":{"type":"bar","fill":{"expr":"pG615V"}},"encoding":{"x":{"field":"range","type":"nominal","scale":{"domain":["700-615","700-586","700-538","700-430","700-402","700-400"],"paddingInner":0,"paddingOuter":0.21,"align":1}},"y":{"datum":0,"type":"quantitative","scale":{"domain":[0,111],"nice":false}},"y2":{"datum":110.5}}},
{"transform":[{"filter":"datum.range == '700-586'"}],"mark":{"type":"bar","fill":{"expr":"pDiag"}},"encoding":{"x":{"field":"range","type":"nominal","scale":{"domain":["700-615","700-586","700-538","700-430","700-402","700-400"],"paddingInner":0,"paddingOuter":0.21,"align":1}},"y":{"datum":0,"type":"quantitative","scale":{"domain":[0,111],"nice":false}},"y2":{"datum":110.5}}},
{"transform":[{"filter":"datum.range == '700-538'"}],"mark":{"type":"bar","fill":"#000"},"encoding":{"x":{"field":"range","type":"nominal","scale":{"domain":["700-615","700-586","700-538","700-430","700-402","700-400"],"paddingInner":0,"paddingOuter":0.21,"align":1}},"y":{"datum":0,"type":"quantitative","scale":{"domain":[0,111],"nice":false}},"y2":{"datum":110.5}}},
{"transform":[{"filter":"datum.range == '700-538'"}],"mark":{"type":"bar","fill":{"expr":"pDotH"}},"encoding":{"x":{"field":"range","type":"nominal","scale":{"domain":["700-615","700-586","700-538","700-430","700-402","700-400"],"paddingInner":0,"paddingOuter":0.21,"align":1}},"y":{"datum":0,"type":"quantitative","scale":{"domain":[0,111],"nice":false}},"y2":{"datum":110.5}}},
{"transform":[{"filter":"datum.range == '700-538'"}],"mark":{"type":"bar","fill":{"expr":"pDotV"}},"encoding":{"x":{"field":"range","type":"nominal","scale":{"domain":["700-615","700-586","700-538","700-430","700-402","700-400"],"paddingInner":0,"paddingOuter":0.21,"align":1}},"y":{"datum":0,"type":"quantitative","scale":{"domain":[0,111],"nice":false}},"y2":{"datum":110.5}}},
{"transform":[{"filter":"datum.range == '700-430'"}],"mark":{"type":"bar","fill":{"expr":"pHL430"}},"encoding":{"x":{"field":"range","type":"nominal","scale":{"domain":["700-615","700-586","700-538","700-430","700-402","700-400"],"paddingInner":0,"paddingOuter":0.21,"align":1}},"y":{"datum":0,"type":"quantitative","scale":{"domain":[0,111],"nice":false}},"y2":{"datum":110.5}}},
{"transform":[{"filter":"datum.range == '700-402'"}],"mark":{"type":"bar","fill":{"expr":"pVL402"}},"encoding":{"x":{"field":"range","type":"nominal","scale":{"domain":["700-615","700-586","700-538","700-430","700-402","700-400"],"paddingInner":0,"paddingOuter":0.21,"align":1}},"y":{"datum":0,"type":"quantitative","scale":{"domain":[0,111],"nice":false}},"y2":{"datum":110.5}}},
{"transform":[{"filter":"datum.range != '700-400'"}],"mark":{"type":"bar","fill":"#fff"},"encoding":{"x":{"field":"range","type":"nominal","scale":{"domain":["700-615","700-586","700-538","700-430","700-402","700-400"],"paddingInner":0,"paddingOuter":0.21,"align":1}},"y":{"field":"value","type":"quantitative","scale":{"domain":[0,111],"nice":false}},"y2":{"datum":110.5}}},
{"transform":[{"filter":"datum.range == '700-400'"}],"mark":{"type":"bar","fill":"#000"},"encoding":{"x":{"field":"range","type":"nominal","scale":{"domain":["700-615","700-586","700-538","700-430","700-402","700-400"],"paddingInner":0,"paddingOuter":0.21,"align":1}},"y":{"field":"value","type":"quantitative","stack":null,"scale":{"domain":[0,111],"nice":false}}}},
{"mark":{"type":"bar","filled":false,"color":"#000","strokeWidth":1.5},"encoding":{"x":{"field":"range","type":"nominal","scale":{"domain":["700-615","700-586","700-538","700-430","700-402","700-400"],"paddingInner":0,"paddingOuter":0.21,"align":1},"axis":{"title":["WAVE LENGTH","RANGE (mμ)"],"titleFontSize":14,"titleFontWeight":"bold","titleFont":"DejaVu Sans","titleColor":"#000","titlePadding":13,"titleLineHeight":23,"labelAngle":270,"labelFontSize":14,"labelFontWeight":"bold","labelFont":"DejaVu Sans","labelColor":"#000","ticks":false,"domain":false,"labelPadding":4}},"y":{"field":"value","type":"quantitative","stack":null,"scale":{"domain":[0,111],"nice":false},"axis":{"title":null,"values":[20,40,60,80,100],"labels":false,"tickSize":-5,"tickWidth":1.5}}}},
{"transform":[{"filter":"datum.range == '700-615' && indexof(datum.species, '\\n') >= 0"}],"mark":{"type":"point","shape":"M-1,-0.254L1,-0.254L1,0.254L-1,0.254Z","size":13924,"filled":true,"fill":"#fff","stroke":"#000","strokeWidth":1.3,"opacity":1},"encoding":{"x":{"datum":"700-538","bandPosition":0.66},"y":{"datum":27.5,"type":"quantitative"}}},
{"transform":[{"filter":"datum.range == '700-615' && indexof(datum.species, '\\n') < 0"}],"mark":{"type":"point","shape":"M-1,-0.17L1,-0.17L1,0.17L-1,0.17Z","size":13924,"filled":true,"fill":"#fff","stroke":"#000","strokeWidth":1.3,"opacity":1},"encoding":{"x":{"datum":"700-538","bandPosition":0.66},"y":{"datum":25,"type":"quantitative"}}},
{"transform":[{"filter":"datum.range == '700-615' && indexof(datum.species, '\\n') >= 0"}],"mark":{"type":"text","font":"Liberation Sans","fontStyle":"italic","fontSize":11.5,"lineBreak":"\n","lineHeight":12,"color":"#000"},"encoding":{"x":{"datum":"700-538","bandPosition":0.66},"y":{"datum":31.6,"type":"quantitative"},"text":{"field":"species"}}},
{"transform":[{"filter":"datum.range == '700-615' && indexof(datum.species, '\\n') < 0"}],"mark":{"type":"text","font":"Liberation Sans","fontStyle":"italic","fontSize":11.5,"color":"#000"},"encoding":{"x":{"datum":"700-538","bandPosition":0.66},"y":{"datum":25,"type":"quantitative"},"text":{"field":"species"}}}
]
}
}
]
}
